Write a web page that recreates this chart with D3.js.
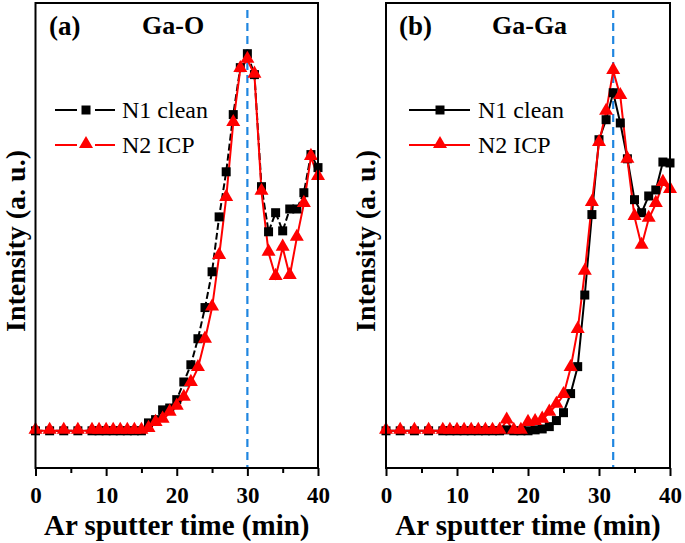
<!DOCTYPE html>
<html><head><meta charset="utf-8">
<script src="https://cdn.jsdelivr.net/npm/d3@7"></script>
<style>body{margin:0;background:#fff}svg{display:block}</style>
</head><body>
<svg id="c" width="685" height="543"></svg>
<script>
// ---- data ----
const timeA = [0,2,4,6,8,9,10,11,12,13,14,15,16,17,18,19,20,21,22,23,24,25,26,27,28,29,30,31,32,33,34,35,36,37,38,39,40];
const gaO_N1 = [0,0,0,0,0,0,0,0,0,0,0,0,1.7,2.4,4.5,4.9,6.7,10.5,14.2,19.8,26.5,34.2,46.0,55.7,68.0,78.1,81.1,76.6,52.5,42.8,46.9,43.0,47.7,47.7,51.2,59.4,56.6];
const gaO_N2 = [0,0,0,0,0,0,0,0,0,0,0,0,0.4,1.7,2.4,3.9,5.2,7.1,10.3,13.5,19.6,26.5,37.6,50.1,66.2,77.8,79.8,76.6,51.4,38.3,33.1,39.4,33.3,41.5,48.8,58.9,54.6];
const gaGa_N1 = [0,0,0,0,0,0,0,0,0,0,0,0,0,0.2,0,0,0,0.2,0.4,0.9,2.2,3.9,8.0,13.8,29.2,46.5,62.6,66.9,72.7,66.2,58.5,49.7,46.9,50.5,51.8,57.8,57.6];
const gaGa_N2 = [0,0,0,0,0,0,0,0,0,0,0,0,0,2.2,0,0,1.7,1.9,2.4,3.9,5.6,7.7,13.5,21.7,34.2,49.0,61.9,68.6,77.4,72.0,58.3,46.0,39.8,45.6,48.8,53.3,51.8];
const xTicks = [0,10,20,30,40];
const xMinorTicks = [5,15,25,35];
const seriesNames = ["N1 clean","N2 ICP"];
const panelLabels = ["(a)","(b)"];
const panelTitles = ["Ga-O","Ga-Ga"];
const markerLines = [30,32];

const svg = d3.select("#c");
const serif = "'Liberation Serif','Times New Roman',serif";

const panels = [
  {left:35.5, right:318, n1:gaO_N1, n2:gaO_N2, n1dash:"7,3", legLine:[55,115], legSym:86, legText:122, lab:[49,35], title:[142,34]},
  {left:386, right:670, n1:gaGa_N1, n2:gaGa_N2, n1dash:null, legLine:[409,470], legSym:440, legText:478, lab:[399,35], title:[492,34]}
];
const plotTop = 3, plotBottom = 468;

panels.forEach((p,i)=>{
  const x = d3.scaleLinear().domain([0,40]).range([p.left,p.right]);
  const y = d3.scaleLinear().domain([-8,92]).range([plotBottom,plotTop]);
  const g = svg.append("g");

  g.append("line").attr("x1",x(markerLines[i])).attr("x2",x(markerLines[i]))
    .attr("y1",10).attr("y2",plotBottom).attr("stroke","#1f86e0").attr("stroke-width",2.2)
    .attr("stroke-dasharray","8,5");

  const line = d3.line().x((d,j)=>x(timeA[j])).y(d=>y(d));
  g.append("path").datum(p.n1).attr("d",line).attr("fill","none").attr("stroke","#000")
    .attr("stroke-width",2).attr("stroke-dasharray",p.n1dash);
  g.append("path").datum(p.n2).attr("d",line).attr("fill","none").attr("stroke","#f00")
    .attr("stroke-width",2);

  const sq = d3.symbol().type(d3.symbolSquare).size(81);
  const tri = d3.symbol().type(d3.symbolTriangle).size(85);
  g.selectAll(".s").data(p.n1).join("path").attr("d",sq)
    .attr("transform",(d,j)=>`translate(${x(timeA[j])},${y(d)})`).attr("fill","#000");
  g.selectAll(".t").data(p.n2).join("path").attr("d",tri)
    .attr("transform",(d,j)=>`translate(${x(timeA[j])},${y(d)-1})`).attr("fill","#f00");

  g.append("rect").attr("x",p.left).attr("y",plotTop).attr("width",p.right-p.left).attr("height",plotBottom-plotTop)
    .attr("fill","none").attr("stroke","#000").attr("stroke-width",2);

  const ax = d3.axisBottom(x).tickValues(xTicks).tickSize(8).tickFormat(d3.format("d"));
  const axg = g.append("g").attr("transform",`translate(0,${plotBottom})`).call(ax);
  axg.select(".domain").remove();
  axg.selectAll(".tick line").attr("stroke-width",2);
  axg.selectAll(".tick text").attr("font-family",serif).attr("font-weight","bold")
    .attr("font-size",23).attr("fill","#000").attr("dy",0).attr("y",35);
  const axm = d3.axisBottom(x).tickValues(xMinorTicks).tickSize(5).tickFormat("");
  const amg = g.append("g").attr("transform",`translate(0,${plotBottom})`).call(axm);
  amg.select(".domain").remove();
  amg.selectAll(".tick line").attr("stroke-width",2);

  g.append("text").attr("x",(p.left+p.right)/2).attr("y",535).attr("text-anchor","middle")
    .attr("font-family",serif).attr("font-weight","bold").attr("font-size",29).text("Ar sputter time (min)");
  g.append("text").attr("transform",`translate(${p.left-11},${241}) rotate(-90)`)
    .attr("text-anchor","middle").attr("font-family",serif).attr("font-weight","bold")
    .attr("font-size",28).text("Intensity (a. u.)");

  g.append("text").attr("x",p.lab[0]).attr("y",p.lab[1]).attr("font-family",serif)
    .attr("font-weight","bold").attr("font-size",27).text(panelLabels[i]);
  g.append("text").attr("x",p.title[0]).attr("y",p.title[1]).attr("font-family",serif)
    .attr("font-weight","bold").attr("font-size",26).text(panelTitles[i]);

  const rows = [{c:"#000",sym:sq,y:110},{c:"#f00",sym:tri,y:145}];
  rows.forEach((r,k)=>{
    if (i===0) {
      g.append("line").attr("x1",p.legLine[0]).attr("x2",p.legSym-9).attr("y1",r.y).attr("y2",r.y).attr("stroke",r.c).attr("stroke-width",2);
      g.append("line").attr("x1",p.legSym+9).attr("x2",p.legLine[1]).attr("y1",r.y).attr("y2",r.y).attr("stroke",r.c).attr("stroke-width",2);
    } else {
      g.append("line").attr("x1",p.legLine[0]).attr("x2",p.legLine[1]).attr("y1",r.y).attr("y2",r.y).attr("stroke",r.c).attr("stroke-width",2);
    }
    g.append("path").attr("d",r.sym).attr("fill",r.c).attr("transform",`translate(${p.legSym},${r.y-(k?1:0)})`);
    g.append("text").attr("x",p.legText).attr("y",r.y+8).attr("font-family",serif)
      .attr("font-size",24).attr("fill","#000").text(seriesNames[k]);
  });
});
</script>
</body></html>
